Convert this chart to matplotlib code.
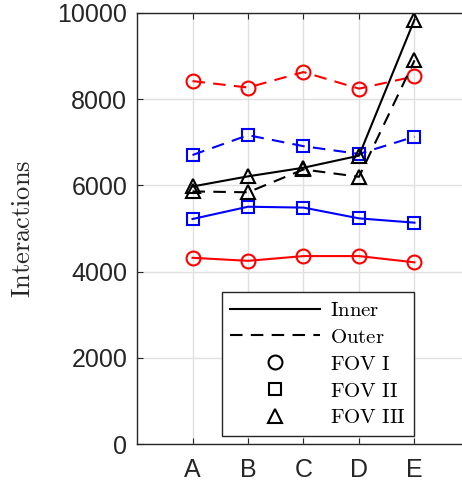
"""Interactions per configuration, inner vs outer, three FOVs."""
import matplotlib
matplotlib.use('Agg')
import matplotlib.pyplot as plt
from matplotlib.lines import Line2D
import numpy as np

plt.rcParams.update({'font.family': 'Liberation Sans', 'mathtext.fontset': 'cm'})

configs = ['A', 'B', 'C', 'D', 'E']
inner_fov1 = [4320, 4250, 4360, 4360, 4215]
outer_fov1 = [8420, 8270, 8630, 8245, 8530]
inner_fov2 = [5220, 5505, 5485, 5235, 5135]
outer_fov2 = [6705, 7165, 6910, 6730, 7130]
inner_fov3 = [5975, 6210, 6410, 6690, 9845]
outer_fov3 = [5860, 5840, 6370, 6200, 8900]

DASH = (0, (6, 4))
GRAY = '#262626'

fig = plt.figure(figsize=(4.62, 4.87), dpi=100)
ax = fig.add_axes([137 / 462, 43 / 487, 333 / 462, 431 / 487])

x = np.arange(1, len(configs) + 1)
series = [
    (inner_fov1, 'red', '-', 'o', 10),
    (outer_fov1, 'red', DASH, 'o', 10),
    (inner_fov2, 'blue', '-', 's', 8),
    (outer_fov2, 'blue', DASH, 's', 8),
    (inner_fov3, 'black', '-', '^', 10),
    (outer_fov3, 'black', DASH, '^', 10),
]
for vals, col, ls, mk, ms in series:
    ax.plot(x, vals, color=col, linestyle=ls, lw=1.5, marker=mk, ms=ms,
            mfc='none', mec=col, mew=1.5)

ax.set_xlim(0, 6)
ax.set_ylim(0, 10000)
ax.set_xticks(x)
ax.set_xticklabels(configs)
ax.set_yticks(np.arange(0, 10001, 2000))
ax.tick_params(direction='in', top=True, right=True, labelsize=18, colors=GRAY,
               length=4)
ax.tick_params(axis='y', pad=7)
ax.tick_params(axis='x', pad=10)
ax.grid(True, color='#e0e0e0', lw=1)
ax.set_axisbelow(True)
for s in ax.spines.values():
    s.set_color(GRAY)
    s.set_linewidth(1)
ax.set_ylabel(r'$\mathrm{Interactions}$', fontsize=19, color=GRAY, labelpad=16)

handles = [
    Line2D([], [], color='black', lw=1.5),
    Line2D([], [], color='black', lw=1.5, linestyle=DASH),
    Line2D([], [], color='black', lw=0, marker='o', ms=10, mfc='none', mew=1.5),
    Line2D([], [], color='black', lw=0, marker='s', ms=8, mfc='none', mew=1.5),
    Line2D([], [], color='black', lw=0, marker='^', ms=10, mfc='none', mew=1.5),
]
labels = [r'$\mathrm{Inner}$', r'$\mathrm{Outer}$', r'$\mathrm{FOV\ I}$',
          r'$\mathrm{FOV\ II}$', r'$\mathrm{FOV\ III}$']
leg = ax.legend(handles, labels, loc='lower right', bbox_to_anchor=(0.832, 0.019),
                fontsize=15, handlelength=4.3, fancybox=False, framealpha=1,
                borderpad=0.4, labelspacing=0.38, handletextpad=0.5,
                borderaxespad=0)
leg.get_frame().set_edgecolor(GRAY)
leg.get_frame().set_linewidth(1)

plt.savefig('out.png', dpi=100)
plt.close()
